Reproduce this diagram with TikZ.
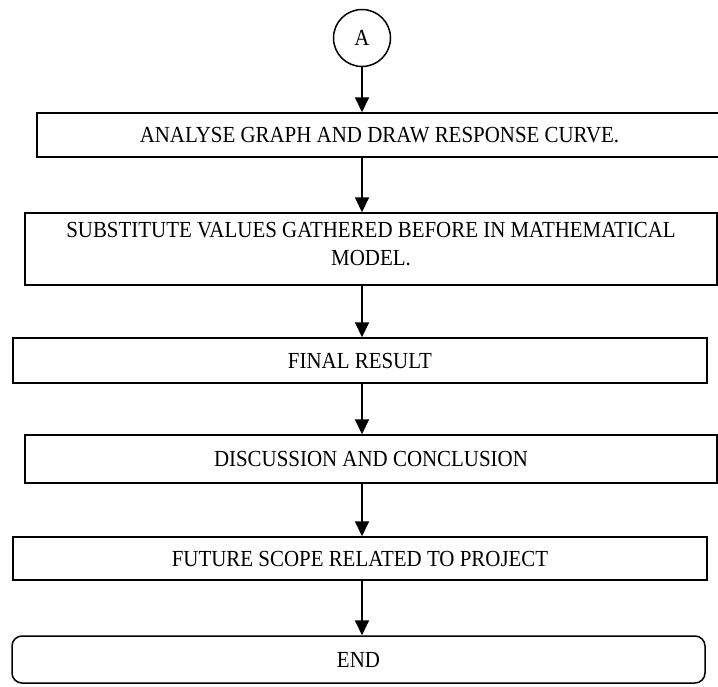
\documentclass[tikz,border=0pt]{standalone}
\usepackage{fontspec}
\setmainfont[FakeStretch=0.91]{Liberation Serif}
\usetikzlibrary{arrows.meta}
\tikzset{
  stepbox/.style={draw, line width=1.5pt, rectangle, inner sep=0pt, align=center,
    font=\fontsize{23}{27.6}\selectfont},
  endbox/.style={stepbox, rounded corners=10pt},
  conn/.style={draw, circle, line width=1.5pt, inner sep=0pt, minimum size=57pt,
    font=\fontsize{23}{25}\selectfont},
  flow/.style={line width=2pt, -{Triangle[length=15pt,width=14pt]}}
}
\begin{document}
\begin{tikzpicture}[x=1pt,y=-1pt]
\useasboundingbox (0,0) rectangle (718,686);
\node[conn] (A) at (362,38) {A};
\node[stepbox, minimum width=685pt, minimum height=44pt] (b1) at (379.5,135) {ANALYSE GRAPH AND DRAW RESPONSE CURVE.};
\node[stepbox, minimum width=692pt, minimum height=72pt, text depth=10pt] (b2) at (371,249) {SUBSTITUTE VALUES GATHERED BEFORE IN MATHEMATICAL\\MODEL.};
\node[stepbox, minimum width=694pt, minimum height=45pt] (b3) at (360,360.5) {FINAL RESULT};
\node[stepbox, minimum width=692pt, minimum height=48pt] (b4) at (371,459) {DISCUSSION AND CONCLUSION};
\node[stepbox, minimum width=694pt, minimum height=43pt] (b5) at (360,558.5) {FUTURE SCOPE RELATED TO PROJECT};
\node[endbox, minimum width=693pt, minimum height=47pt] (e) at (358.5,659.5) {END};
\draw[flow] (A.south) -- (A.south |- b1.north);
\draw[flow] (A.south |- b1.south) -- (A.south |- b2.north);
\draw[flow] (A.south |- b2.south) -- (A.south |- b3.north);
\draw[flow] (A.south |- b3.south) -- (A.south |- b4.north);
\draw[flow] (A.south |- b4.south) -- (A.south |- b5.north);
\draw[flow] (A.south |- b5.south) -- (A.south |- e.north);
\end{tikzpicture}
\end{document}
